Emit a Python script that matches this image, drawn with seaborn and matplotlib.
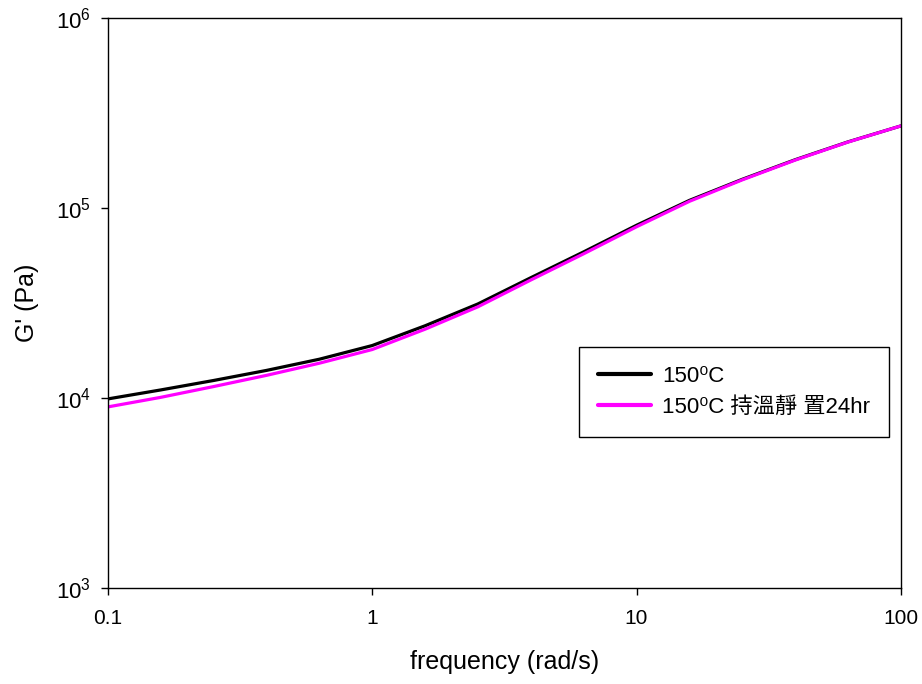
import numpy as np
import pandas as pd
import seaborn as sns
import matplotlib
matplotlib.use("Agg")
import matplotlib.pyplot as plt

# frequency sweep (rad/s), 5 points per decade
freq = [0.1, 0.158, 0.251, 0.398, 0.631, 1.0, 1.585, 2.512, 3.981, 6.31,
        10.0, 15.85, 25.12, 39.81, 63.1, 100.0]
g_150 = [9886, 11015, 12359, 13964, 15996, 18880, 23988, 31261, 42954, 58749,
         81096, 109648, 141579, 179473, 222844, 270396]
g_150_24hr = [8974, 10069, 11482, 13152, 15241, 17989, 23014, 30200, 41783, 57412,
              79616, 108393, 140605, 178649, 222331, 270396]
labels = ["150\u2070C", "150\u2070C 持溫靜 置24hr"]

sns.set_style("ticks")
plt.rcParams['font.family'] = ['Liberation Sans', 'Noto Sans CJK TC', 'DejaVu Sans']
plt.rcParams['mathtext.fontset'] = 'custom'
plt.rcParams['mathtext.rm'] = 'Liberation Sans'
plt.rcParams['text.color'] = 'black'
plt.rcParams['axes.labelcolor'] = 'black'

df = pd.DataFrame({
    'freq': freq * 2,
    'G': g_150 + g_150_24hr,
    'sample': [labels[0]] * len(freq) + [labels[1]] * len(freq),
})

fig = plt.figure(figsize=(9.22, 6.84), dpi=100)
ax = fig.add_axes([0.117, 0.1404, 0.8601, 0.8333])

sns.lineplot(data=df, x='freq', y='G', hue='sample', hue_order=labels,
             palette=['black', '#ff00ff'], linewidth=2.3, ax=ax, legend=True)
for ln in ax.get_lines():
    ln.set_solid_joinstyle('round')

ax.set_xscale('log')
ax.set_yscale('log')
ax.set_xlim(0.1, 100)
ax.set_ylim(1e3, 1e6)
ax.set_xticks([0.1, 1, 10, 100])
ax.set_xticklabels(['0.1', '1', '10', '100'])
ax.set_yticks([1e3, 1e4, 1e5, 1e6])
ax.minorticks_off()
ax.tick_params(axis='both', which='major', direction='out', length=5, width=1,
               colors='black', labelcolor='black')
ax.tick_params(axis='x', labelsize=15, pad=10)
ax.tick_params(axis='y', labelsize=16, pad=7)
for s in ax.spines.values():
    s.set_color('black')
    s.set_linewidth(1)
    s.set_visible(True)

ax.set_xlabel('frequency (rad/s)', fontsize=18, labelpad=16)
ax.set_ylabel("G' (Pa)", fontsize=18, labelpad=12)

leg = ax.legend(loc='upper left', bbox_to_anchor=(0.594, 0.4228), fontsize=16,
                frameon=True, fancybox=False, edgecolor='black', framealpha=1,
                handlelength=2.4, handletextpad=0.5, borderpad=0.85,
                labelspacing=0.45, title=None, borderaxespad=0)
leg.get_frame().set_linewidth(1)
for line in leg.get_lines():
    line.set_linewidth(3)

fig.savefig('out.png', dpi=100)
